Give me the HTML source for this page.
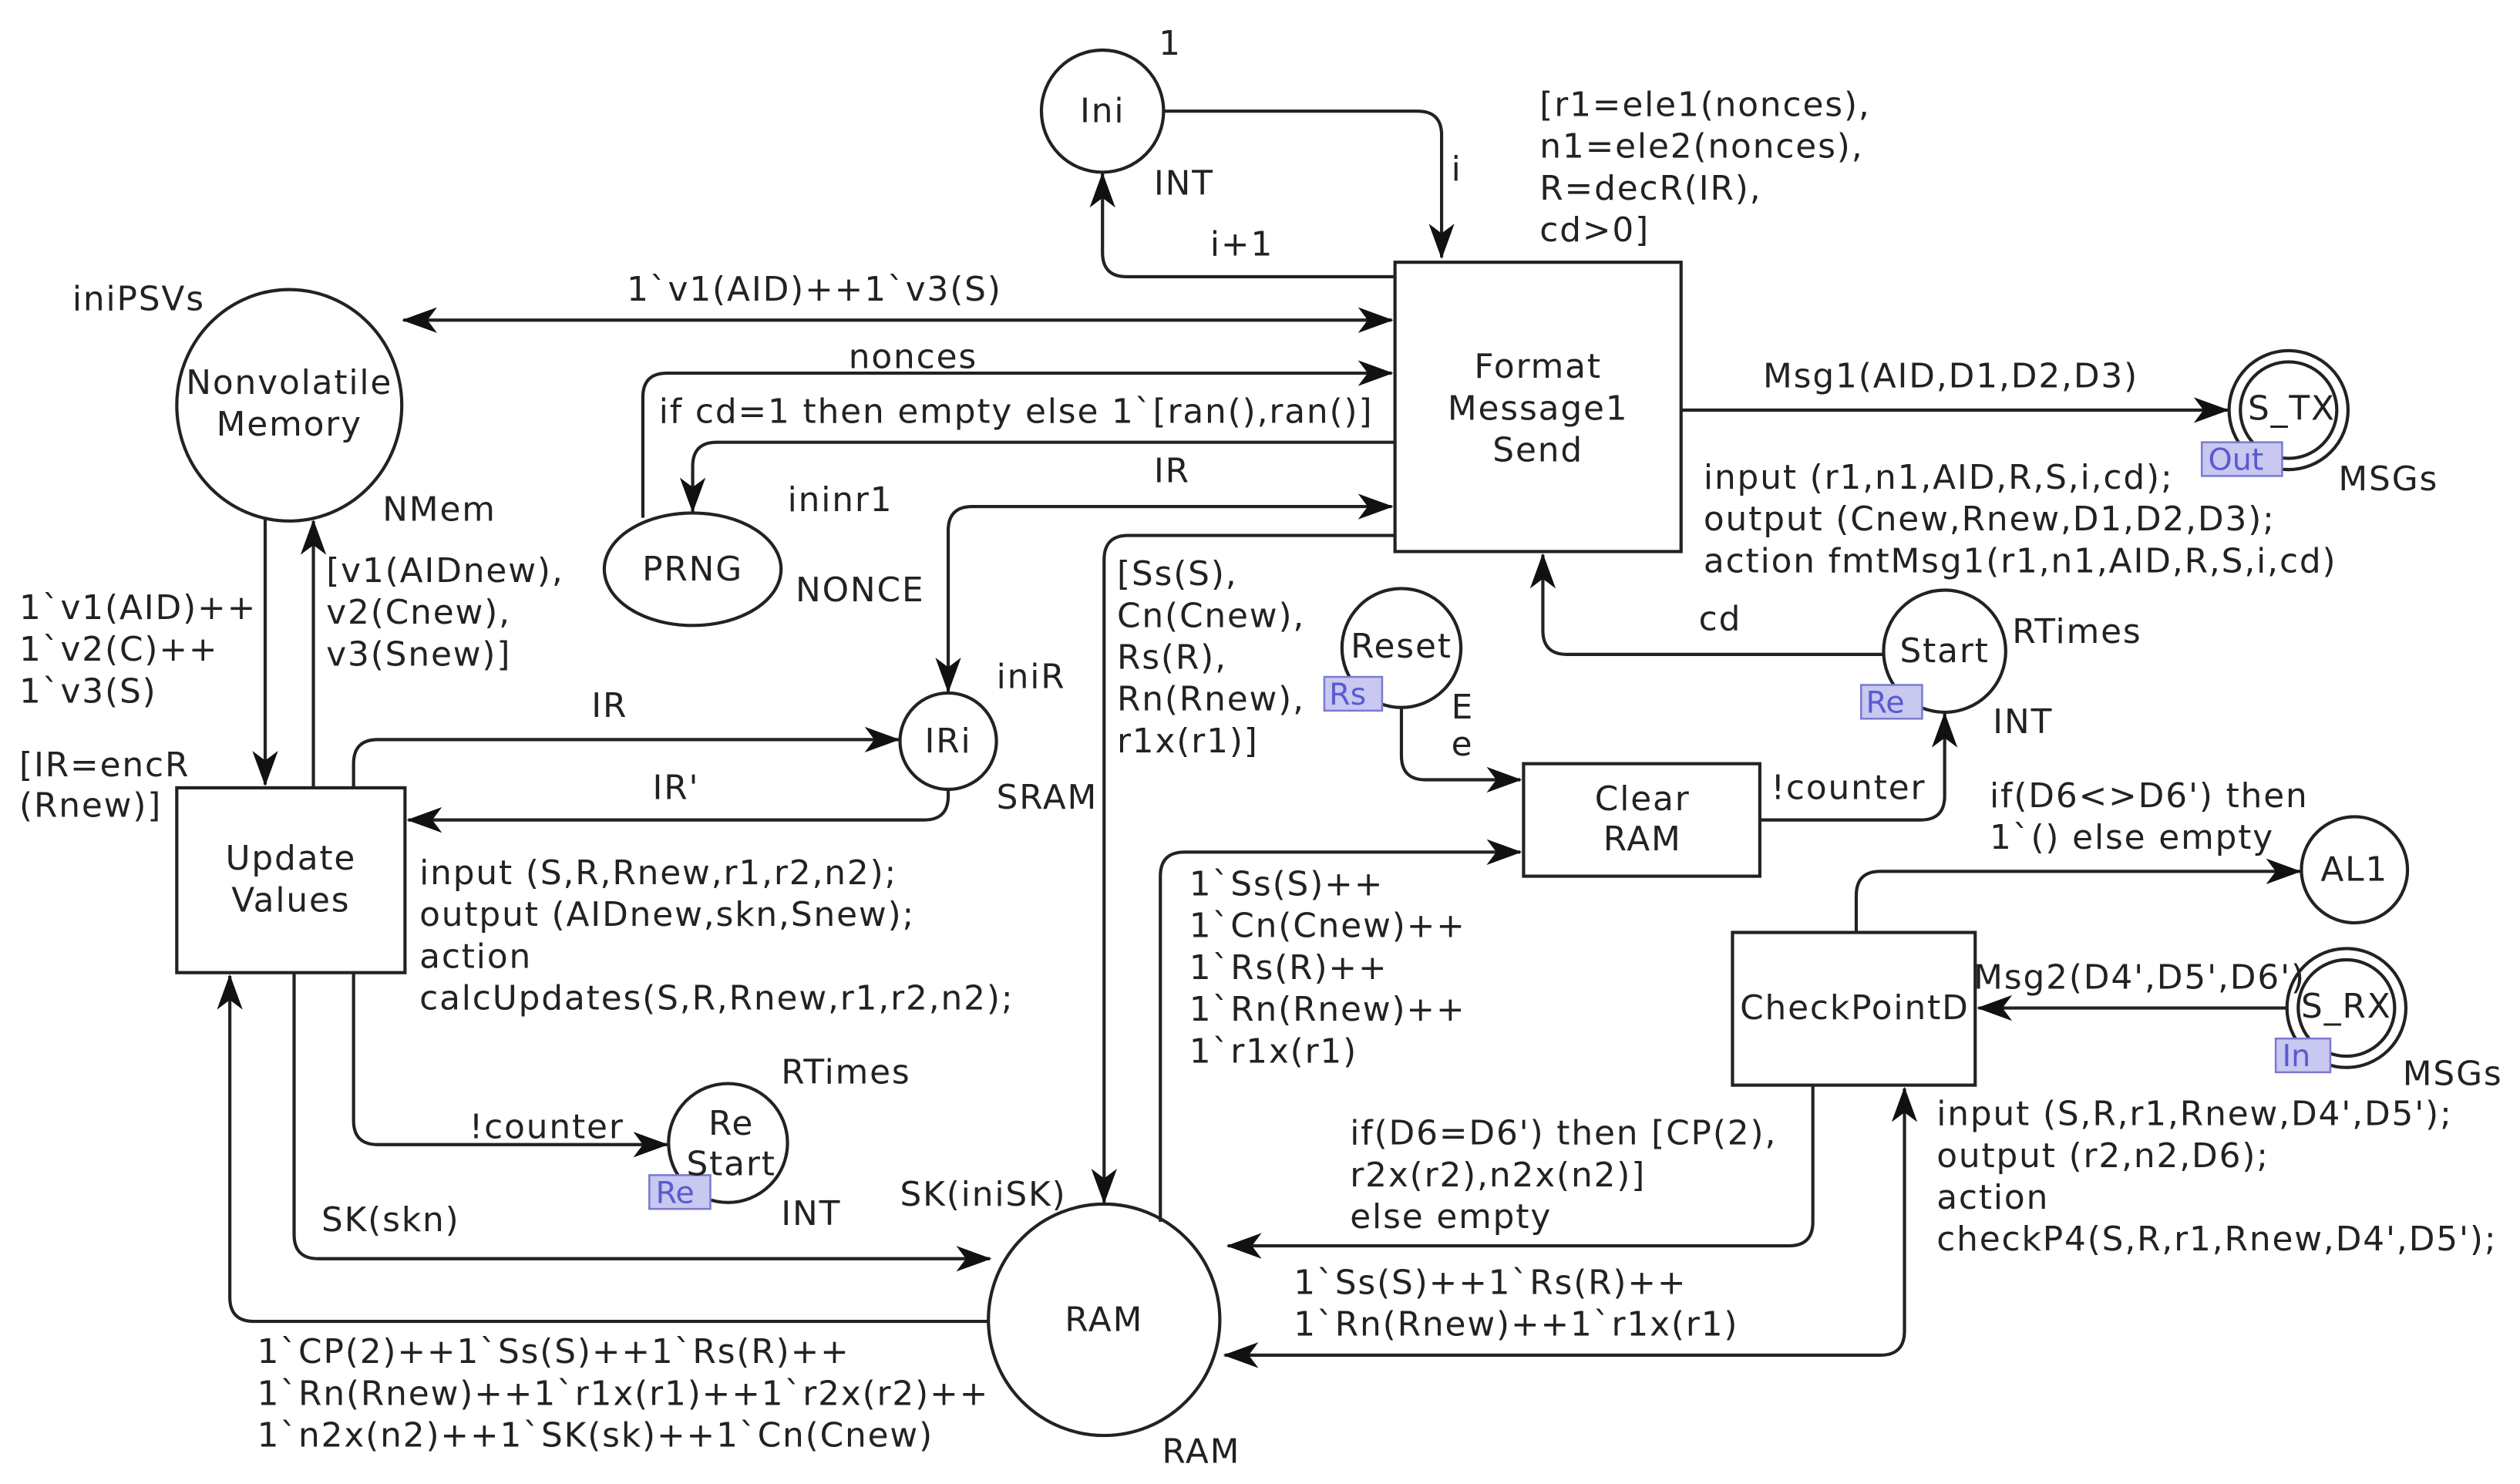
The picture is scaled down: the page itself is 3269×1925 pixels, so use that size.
<!DOCTYPE html>
<html><head><meta charset="utf-8"><style>
html,body{margin:0;padding:0;background:#fff;}
svg{display:block;}
text{font-family:"DejaVu Sans","Liberation Sans",sans-serif;font-size:21px;letter-spacing:0.9px;fill:#222;dominant-baseline:central;}
.c{text-anchor:middle;}
.tag{fill:#c8c8f0;stroke:#7a7ad0;stroke-width:1.2;}
.tt{fill:#5a5ad0;font-size:19px;letter-spacing:0;}
</style></head><body>
<svg width="3269" height="1925" viewBox="0 0 1568 923" xmlns="http://www.w3.org/2000/svg">
<defs>
<marker id="a" viewBox="0 0 22 16" refX="21" refY="8" markerWidth="22" markerHeight="16" markerUnits="userSpaceOnUse" orient="auto-start-reverse">
<path d="M0,0 L22,8 L0,16 L6,8 Z" fill="#111"/>
</marker>
</defs>
<rect width="1568" height="923" fill="#fff"/>
<g fill="none" stroke="#222" stroke-width="2">
<circle cx="686" cy="69" r="38" fill="#fff"/>
<rect x="868" y="163" width="178" height="180" fill="#fff"/>
<ellipse cx="180" cy="252" rx="70" ry="72" fill="#fff"/>
<ellipse cx="431" cy="354" rx="55" ry="35" fill="#fff"/>
<circle cx="590" cy="461" r="30" fill="#fff"/>
<rect x="110" y="490" width="142" height="115" fill="#fff"/>
<circle cx="453" cy="711" r="37" fill="#fff"/>
<circle cx="687" cy="821" r="72" fill="#fff"/>
<circle cx="872" cy="403" r="37" fill="#fff"/>
<circle cx="1210" cy="405" r="38" fill="#fff"/>
<rect x="948" y="475" width="147" height="70" fill="#fff"/>
<circle cx="1424" cy="255" r="37" fill="#fff"/><circle cx="1424" cy="255" r="30"/>
<circle cx="1465" cy="541" r="33" fill="#fff"/>
<rect x="1078" y="580" width="151" height="95" fill="#fff"/>
<circle cx="1460" cy="627" r="37" fill="#fff"/><circle cx="1460" cy="627" r="30"/>
<path d="M724,69 H882 Q897,69 897,84 V160" marker-end="url(#a)"/>
<path d="M868,172 H701 Q686,172 686,157 V108" marker-end="url(#a)"/>
<path d="M251,199 H866" marker-start="url(#a)" marker-end="url(#a)"/>
<path d="M400,322 V247 Q400,232 415,232 H866" marker-end="url(#a)"/>
<path d="M868,275 H446 Q431,275 431,290 V318" marker-end="url(#a)"/>
<path d="M590,430 V330 Q590,315 605,315 H866" marker-start="url(#a)" marker-end="url(#a)"/>
<path d="M868,333 H702 Q687,333 687,348 V748" marker-end="url(#a)"/>
<path d="M1172,407 H975 Q960,407 960,392 V345" marker-end="url(#a)"/>
<path d="M872,440 V470 Q872,485 887,485 H946" marker-end="url(#a)"/>
<path d="M1095,510 H1195 Q1210,510 1210,495 V444" marker-end="url(#a)"/>
<path d="M722,760 V545 Q722,530 737,530 H946" marker-end="url(#a)"/>
<path d="M1155,580 V557 Q1155,542 1170,542 H1431" marker-end="url(#a)"/>
<path d="M1423,627 H1231" marker-end="url(#a)"/>
<path d="M1128,675 V760 Q1128,775 1113,775 H764" marker-end="url(#a)"/>
<path d="M762,843 H1170 Q1185,843 1185,828 V677" marker-start="url(#a)" marker-end="url(#a)"/>
<path d="M1046,255 H1386" marker-end="url(#a)"/>
<path d="M165,322 V488" marker-end="url(#a)"/>
<path d="M195,490 V324" marker-end="url(#a)"/>
<path d="M220,490 V475 Q220,460 235,460 H559" marker-end="url(#a)"/>
<path d="M590,490 V495 Q590,510 575,510 H254" marker-end="url(#a)"/>
<path d="M220,605 V697 Q220,712 235,712 H415" marker-end="url(#a)"/>
<path d="M183,605 V768 Q183,783 198,783 H616" marker-end="url(#a)"/>
<path d="M615,822 H158 Q143,822 143,807 V607" marker-end="url(#a)"/>
</g>
<rect class="tag" x="404" y="731" width="38" height="21"/><text class="tt" x="408" y="742">Re</text>
<rect class="tag" x="824" y="421" width="36" height="21"/><text class="tt" x="827" y="432">Rs</text>
<rect class="tag" x="1158" y="426" width="38" height="21"/><text class="tt" x="1161" y="437">Re</text>
<rect class="tag" x="1370" y="275" width="50" height="21"/><text class="tt" x="1374" y="286">Out</text>
<rect class="tag" x="1416" y="646" width="34" height="21"/><text class="tt" x="1420" y="657">In</text>
<text class="c" x="686" y="69">Ini</text>
<text class="c" x="957" y="228">Format</text><text class="c" x="957" y="254">Message1</text><text class="c" x="957" y="280">Send</text>
<text class="c" x="180" y="238">Nonvolatile</text><text class="c" x="180" y="264">Memory</text>
<text class="c" x="431" y="354">PRNG</text>
<text class="c" x="590" y="461">IRi</text>
<text class="c" x="181" y="534">Update</text><text class="c" x="181" y="560">Values</text>
<text class="c" x="455" y="699">Re</text><text class="c" x="455" y="724">Start</text>
<text class="c" x="687" y="821">RAM</text>
<text class="c" x="872" y="402">Reset</text>
<text class="c" x="1210" y="405">Start</text>
<text class="c" x="1022" y="497">Clear</text><text class="c" x="1022" y="522">RAM</text>
<text class="c" x="1426" y="254">S_TX</text>
<text class="c" x="1465" y="541">AL1</text>
<text class="c" x="1154" y="627">CheckPointD</text>
<text class="c" x="1460" y="626">S_RX</text>
<text x="721" y="27">1</text><text x="718" y="114">INT</text>
<text x="903" y="105">i</text><text x="753" y="152">i+1</text>
<text x="390" y="180">1`v1(AID)++1`v3(S)</text>
<text x="528" y="222">nonces</text>
<text x="410" y="256">if cd=1 then empty else 1`[ran(),ran()]</text>
<text x="718" y="293">IR</text>
<text x="490" y="311">ininr1</text><text x="495" y="367">NONCE</text>
<text x="45" y="186">iniPSVs</text><text x="238" y="317">NMem</text>
<text x="203" y="355">[v1(AIDnew),</text><text x="203" y="381">v2(Cnew),</text><text x="203" y="407">v3(Snew)]</text>
<text x="12" y="378">1`v1(AID)++</text><text x="12" y="404">1`v2(C)++</text><text x="12" y="430">1`v3(S)</text>
<text x="12" y="476">[IR=encR</text><text x="12" y="501">(Rnew)]</text>
<text x="368" y="439">IR</text><text x="406" y="490">IR'</text>
<text x="620" y="421">iniR</text><text x="620" y="496">SRAM</text>
<text x="261" y="543">input (S,R,Rnew,r1,r2,n2);</text>
<text x="261" y="569">output (AIDnew,skn,Snew);</text>
<text x="261" y="595">action</text>
<text x="261" y="621">calcUpdates(S,R,Rnew,r1,r2,n2);</text>
<text x="486" y="667">RTimes</text><text x="486" y="755">INT</text>
<text x="292" y="701">!counter</text>
<text x="200" y="759">SK(skn)</text>
<text x="560" y="743">SK(iniSK)</text><text x="723" y="903">RAM</text>
<text x="160" y="841">1`CP(2)++1`Ss(S)++1`Rs(R)++</text>
<text x="160" y="867">1`Rn(Rnew)++1`r1x(r1)++1`r2x(r2)++</text>
<text x="160" y="893">1`n2x(n2)++1`SK(sk)++1`Cn(Cnew)</text>
<text x="695" y="357">[Ss(S),</text><text x="695" y="383">Cn(Cnew),</text><text x="695" y="409">Rs(R),</text><text x="695" y="435">Rn(Rnew),</text><text x="695" y="461">r1x(r1)]</text>
<text x="740" y="550">1`Ss(S)++</text><text x="740" y="576">1`Cn(Cnew)++</text><text x="740" y="602">1`Rs(R)++</text><text x="740" y="628">1`Rn(Rnew)++</text><text x="740" y="654">1`r1x(r1)</text>
<text x="958" y="65">[r1=ele1(nonces),</text><text x="958" y="91">n1=ele2(nonces),</text><text x="958" y="117">R=decR(IR),</text><text x="958" y="143">cd&gt;0]</text>
<text x="1097" y="234">Msg1(AID,D1,D2,D3)</text>
<text x="1060" y="297">input (r1,n1,AID,R,S,i,cd);</text>
<text x="1060" y="323">output (Cnew,Rnew,D1,D2,D3);</text>
<text x="1060" y="349">action fmtMsg1(r1,n1,AID,R,S,i,cd)</text>
<text x="1455" y="298">MSGs</text>
<text x="1057" y="385">cd</text>
<text x="1252" y="393">RTimes</text><text x="1240" y="449">INT</text>
<text x="903" y="440">E</text><text x="903" y="463">e</text>
<text x="1102" y="490">!counter</text>
<text x="1238" y="495">if(D6&lt;&gt;D6') then</text><text x="1238" y="521">1`() else empty</text>
<text x="1228" y="608">Msg2(D4',D5',D6')</text>
<text x="1495" y="668">MSGs</text>
<text x="1205" y="693">input (S,R,r1,Rnew,D4',D5');</text>
<text x="1205" y="719">output (r2,n2,D6);</text>
<text x="1205" y="745">action</text>
<text x="1205" y="771">checkP4(S,R,r1,Rnew,D4',D5');</text>
<text x="840" y="705">if(D6=D6') then [CP(2),</text><text x="840" y="731">r2x(r2),n2x(n2)]</text><text x="840" y="757">else empty</text>
<text x="805" y="798">1`Ss(S)++1`Rs(R)++</text><text x="805" y="824">1`Rn(Rnew)++1`r1x(r1)</text>
</svg>
</body></html>
